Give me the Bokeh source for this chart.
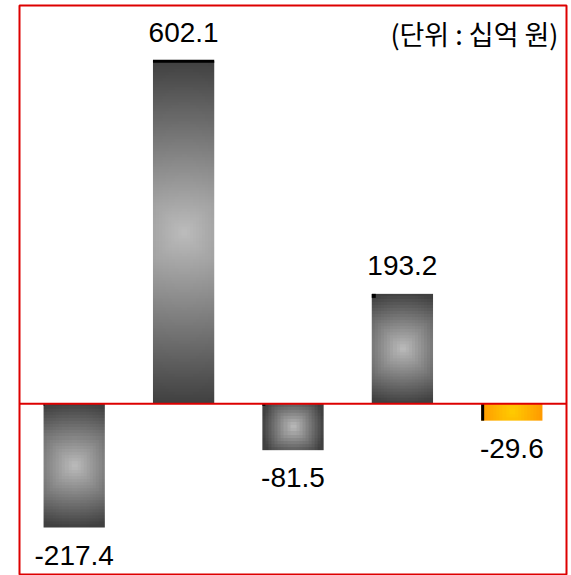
import numpy as np
from bokeh.plotting import figure
from bokeh.models import Range1d, Span, ColumnDataSource
from bokeh.core.properties import value
from bokeh.embed import file_html
from bokeh.resources import INLINE

# ---------------- data ----------------
categories = ["1", "2", "3", "4", "5"]          # no category labels are shown
values = [-217.4, 602.1, -81.5, 193.2, -29.6]
value_labels = ["-217.4", "602.1", "-81.5", "193.2", "-29.6"]
bar_kind = ["gray", "gray", "gray", "gray", "orange"]
unit_text = "(단위 : 십억 원)"
y_min, y_max = -300, 700

# ---------------- style ----------------
RED = "#dd0000"
BAR_W = 0.56
NUM_FONT = "Liberation Sans"
GRADS = {
    "gray": ((0xbc, 0xbc, 0xbc), (0x40, 0x40, 0x40)),
    "orange": ((0xff, 0xcc, 0x00), (0xff, 0x99, 0x00)),
}

FRAME_W, FRAME_H = 547, 569
x_lo, x_hi = -0.5, len(categories) - 0.5
px_x = (x_hi - x_lo) / FRAME_W          # data units per screen px (x)
px_y = (y_max - y_min) / FRAME_H        # data units per screen px (y)

p = figure(width=571, height=575, output_backend="svg", toolbar_location=None,
           x_range=Range1d(x_lo, x_hi), y_range=Range1d(y_min, y_max),
           x_axis_location=None, y_axis_location=None,
           min_border_left=19, min_border_right=5, min_border_top=5, min_border_bottom=1)
p.xgrid.visible = False
p.ygrid.visible = False
p.outline_line_color = RED
p.outline_line_width = 2
p.background_fill_color = "white"
p.border_fill_color = "white"


def gradient(w_px, h_px, kind):
    """Radial fill centred in the bar, radius = half of the longer side."""
    c_center, c_edge = GRADS[kind]
    nx = max(3, int(round(w_px / 3)))
    ny = max(3, int(round(h_px / 3)))
    xs = ((np.arange(nx) + 0.5) / nx * 2 - 1) * w_px / 2
    ys = ((np.arange(ny) + 0.5) / ny * 2 - 1) * h_px / 2
    X, Y = np.meshgrid(xs, ys)
    R = max(w_px, h_px) / 2
    d = (0.6 * np.sqrt(X ** 2 + Y ** 2) + 0.4 * np.maximum(np.abs(X), np.abs(Y))) / R
    d = np.clip(d, 0, 1)
    img = np.empty((ny, nx), dtype=np.uint32)
    view = img.view(dtype=np.uint8).reshape((ny, nx, 4))
    for k in range(3):
        view[:, :, k] = np.round(c_edge[k] + (c_center[k] - c_edge[k]) * (1 - d)).astype(np.uint8)
    view[:, :, 3] = 255
    return img


# bars drawn as gradient images
for i, (v, kind) in enumerate(zip(values, bar_kind)):
    w_px = BAR_W / px_x
    h_px = abs(v) / px_y
    p.image_rgba(image=[gradient(w_px, h_px, kind)], x=i - BAR_W / 2, y=min(0, v),
                 dw=BAR_W, dh=abs(v))

# small dark edge artefacts at the base/top end of each bar (style: px sizes)
edge_w_px = [1, None, 3, 4, 3]      # None = full bar width
edge_h_px = [2, 3, 2, 4, None]      # None = full bar height
ql, qr, qb, qt = [], [], [], []
for i, v in enumerate(values):
    left = i - BAR_W / 2
    ew = BAR_W if edge_w_px[i] is None else edge_w_px[i] * px_x
    eh = abs(v) if edge_h_px[i] is None else edge_h_px[i] * px_y
    ql.append(left)
    qr.append(left + ew)
    if v >= 0:
        if edge_w_px[i] is None:
            qb.append(v - eh / 2); qt.append(v + eh / 2)
        else:
            qb.append(v - eh); qt.append(v)
    else:
        qb.append(-eh); qt.append(0)
p.quad(left=ql, right=qr, bottom=qb, top=qt, fill_color="black", line_color=None)

# value labels
pos = ColumnDataSource(dict(x=[i for i, v in enumerate(values) if v >= 0],
                            y=[v for v in values if v >= 0],
                            t=[l for l, v in zip(value_labels, values) if v >= 0]))
neg = ColumnDataSource(dict(x=[i for i, v in enumerate(values) if v < 0],
                            y=[v for v in values if v < 0],
                            t=[l for l, v in zip(value_labels, values) if v < 0]))
p.text(x="x", y="y", text="t", source=pos, text_align="center", text_baseline="bottom",
       y_offset=-19, text_font=value(NUM_FONT), text_font_size="28px", text_color="black")
p.text(x="x", y="y", text="t", source=neg, text_align="center", text_baseline="top",
       y_offset=18, text_font=value(NUM_FONT), text_font_size="28px", text_color="black")

# unit note
p.text(x=[x_hi], y=[y_max], text=[unit_text], text_align="right", text_baseline="top",
       x_offset=-8, y_offset=8, text_font=value("Noto Sans CJK KR"),
       text_font_size="27px", text_color="black")

# zero line
p.add_layout(Span(location=0, dimension="width", line_color=RED, line_width=2))

open("out.html", "w").write(file_html(p, INLINE))
